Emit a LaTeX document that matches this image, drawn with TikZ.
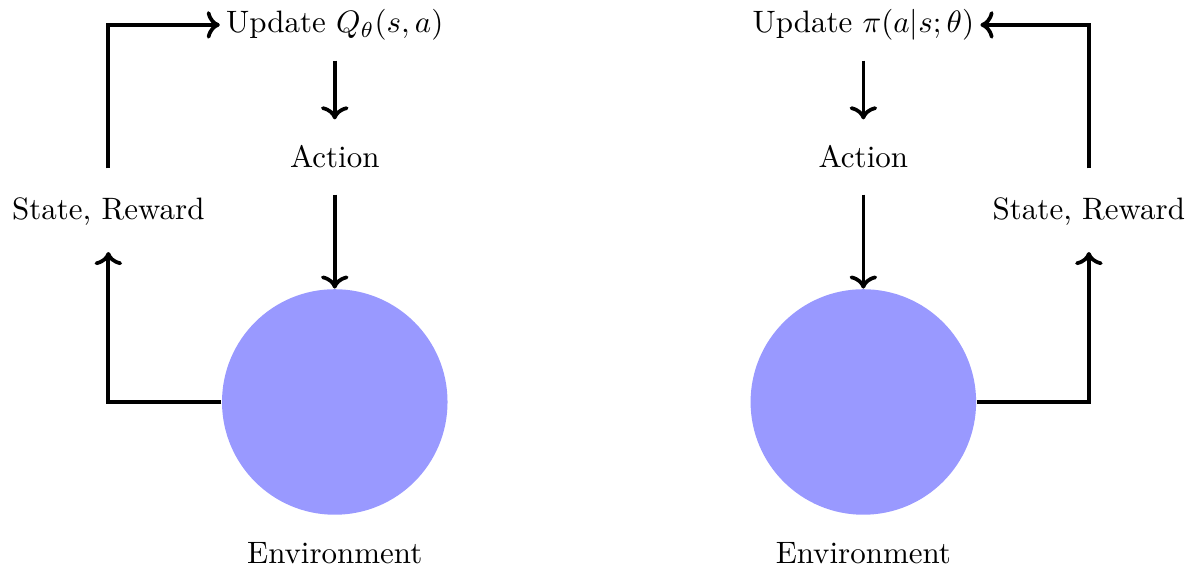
\documentclass[tikz,border=0pt]{standalone}
\usepackage{amsmath,amssymb}
\usepackage{xcolor}
\usepackage{tikz}
\usetikzlibrary{arrows.meta,positioning}

\begin{document}
\begin{tikzpicture}[
  env/.style={circle,fill=blue!40,draw=none,minimum size=25.6mm,inner sep=0pt},
  lbl/.style={align=center},
  arr/.style={->,line width=1.2pt,shorten >=5pt,shorten <=5pt},
  loop/.style={->,line width=1.2pt}
]
\useasboundingbox (-3.80,-1.907) rectangle (9.776,4.563);
% value based (left)
\node[env] (envq) at (0,0) {};
\node[lbl] (envqt) at (0,-1.714) {Environment};
\node[lbl] (actq) at (0,2.78) {Action};
\node[lbl] (updq) at (0,4.28) {Update $Q_\theta(s,a)$};
\node[lbl] (srq) at (-2.57,2.16) {State, Reward};
% policy based (right)
\node[env] (envp) at (6,0) {};
\node[lbl] (envpt) at (6,-1.714) {Environment};
\node[lbl] (actp) at (6,2.78) {Action};
\node[lbl] (updp) at (6,4.28) {Update $\pi(a|s;\theta)$};
\node[lbl] (srp) at (8.56,2.16) {State, Reward};

\draw[arr,shorten <=3pt] (updq) -- (actq);
\draw[arr,shorten >=0pt] (actq) -- (envq);
\draw[loop,shorten >=5pt] (envq.west) -| (srq.south);
\draw[loop,shorten <=6pt,shorten >=-1.5pt] (srq.north) |- (updq.west);

\draw[arr,shorten <=3pt] (updp) -- (actp);
\draw[arr,shorten >=0pt] (actp) -- (envp);
\draw[loop,shorten >=5pt] (envp.east) -| (srp.south);
\draw[loop,shorten <=6pt,shorten >=-1.5pt] (srp.north) |- (updp.east);
\end{tikzpicture}
\end{document}
